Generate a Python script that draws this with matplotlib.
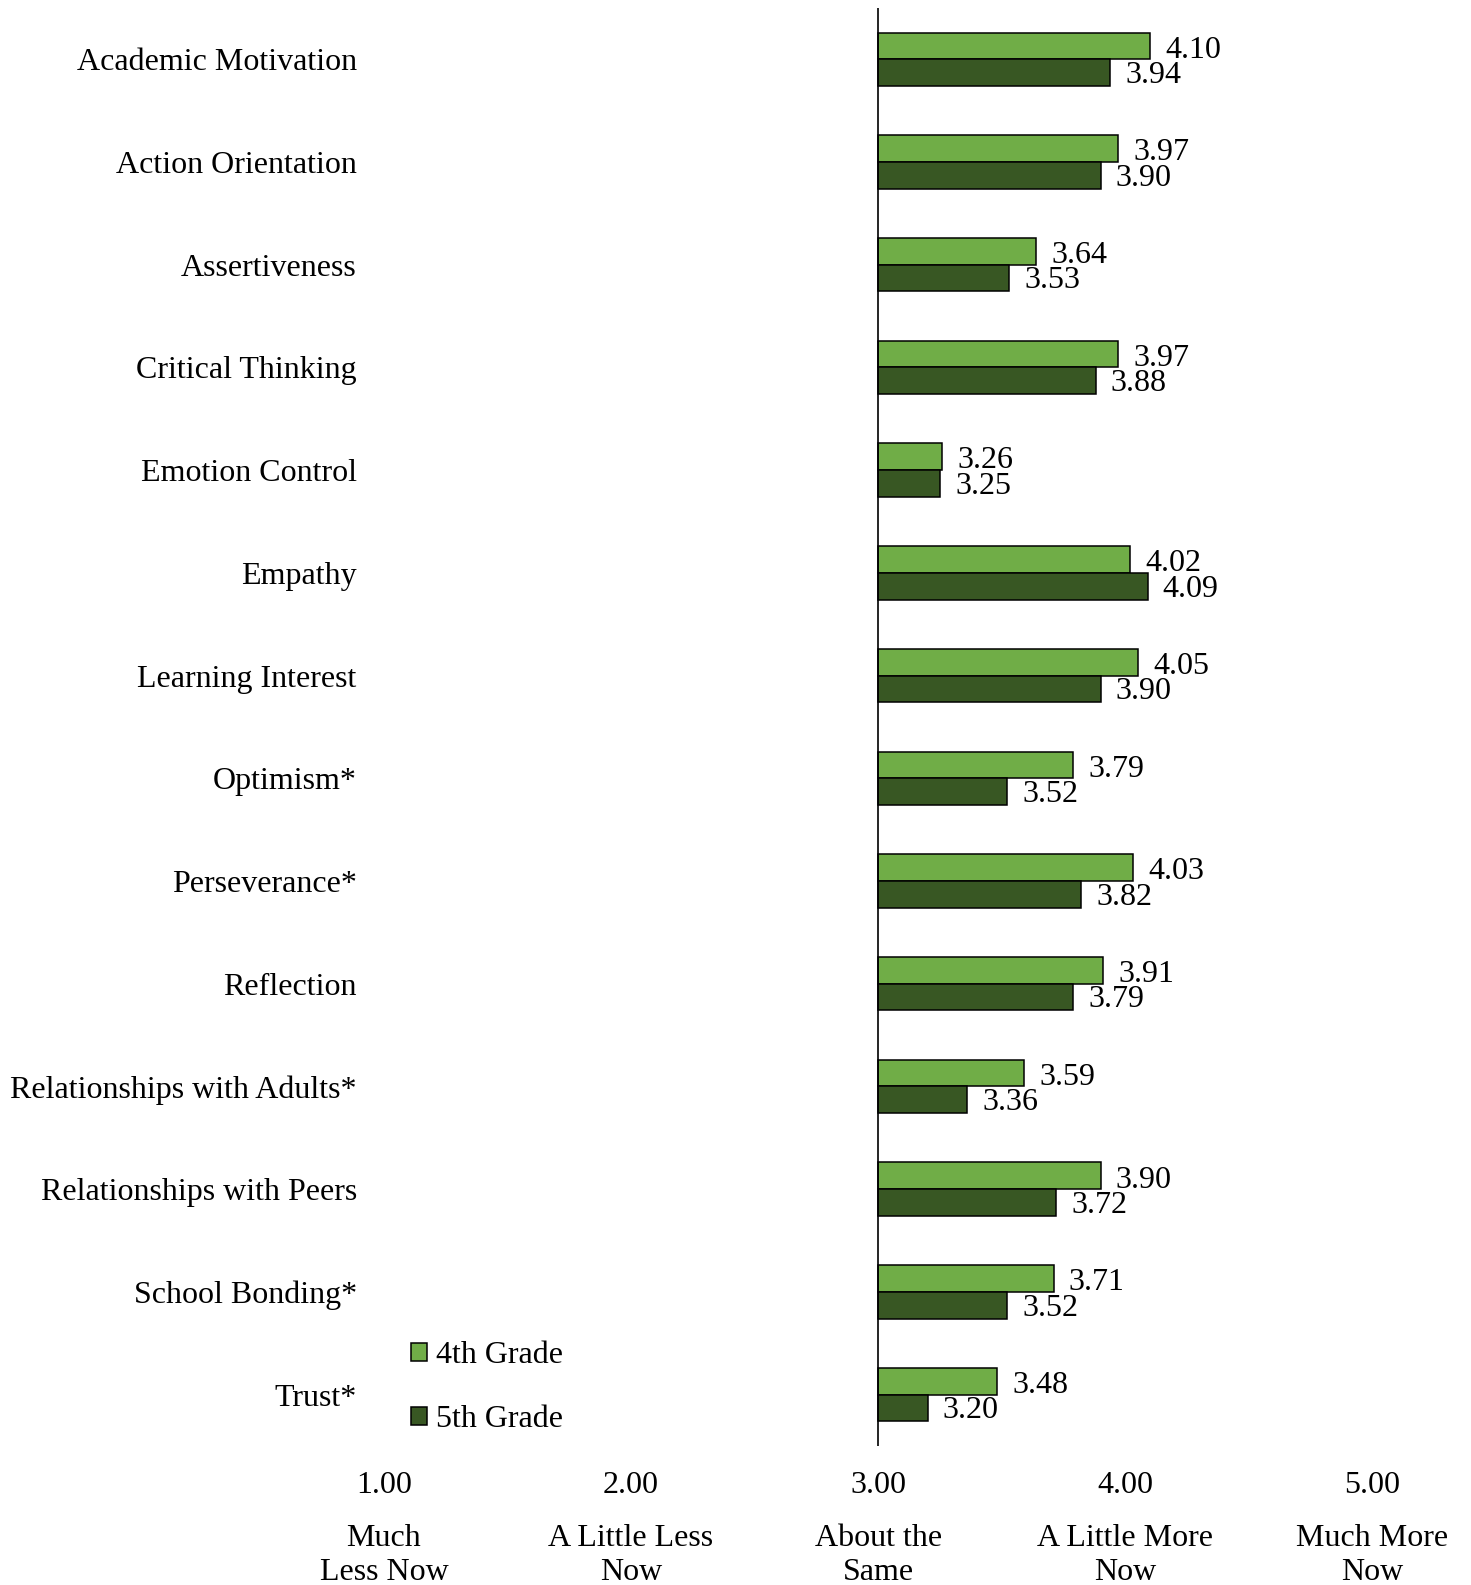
import numpy as np
import matplotlib
matplotlib.use("Agg")
import matplotlib.pyplot as plt
import matplotlib.transforms as mtransforms

plt.rcParams['font.family'] = ['Liberation Serif', 'DejaVu Serif']
plt.rcParams['font.size'] = 23

# data
categories = ["Academic Motivation", "Action Orientation", "Assertiveness", "Critical Thinking",
              "Emotion Control", "Empathy", "Learning Interest", "Optimism*", "Perseverance*",
              "Reflection", "Relationships with Adults*", "Relationships with Peers",
              "School Bonding*", "Trust*"]
grade4 = [4.10, 3.97, 3.64, 3.97, 3.26, 4.02, 4.05, 3.79, 4.03, 3.91, 3.59, 3.90, 3.71, 3.48]
grade5 = [3.94, 3.90, 3.53, 3.88, 3.25, 4.09, 3.90, 3.52, 3.82, 3.79, 3.36, 3.72, 3.52, 3.20]
scale_values = [1, 2, 3, 4, 5]
scale_labels = ["Much\nLess Now", "A Little Less\nNow", "About the\nSame", "A Little More\nNow", "Much More\nNow"]
series_names = ["4th Grade", "5th Grade"]

light = "#70AD47"
dark = "#385723"
base = 3.0

fig = plt.figure(figsize=(14.71, 15.85), dpi=100)
ax = fig.add_axes([0.261, 0.0877, 0.672, 0.9073])

y = np.arange(len(categories))
h = 0.26
v4 = np.array(grade4)
v5 = np.array(grade5)
b4 = ax.barh(y - h / 2, v4 - base, height=h, left=base, color=light, edgecolor="black", linewidth=1.1,
             label=series_names[0])
b5 = ax.barh(y + h / 2, v5 - base, height=h, left=base, color=dark, edgecolor="black", linewidth=1.1,
             label=series_names[1])

for bars, vals, dy in [(b4, grade4, -3), (b5, grade5, -2)]:
    for rect, v in zip(bars, vals):
        ax.annotate(f"{v:.2f}", (v, rect.get_y() + rect.get_height() / 2),
                    xytext=(11, dy), textcoords="offset points", va="center", ha="left")

ax.axvline(base, color="black", linewidth=1.2)

ax.set_xlim(1, 5)
ax.set_ylim(len(categories) - 0.5, -0.5)
ax.set_yticks(y)
ax.set_yticklabels(categories)
ax.set_xticks(scale_values)
ax.set_xticklabels([f"{v:.2f}" for v in scale_values])
ax.tick_params(axis="y", length=0, pad=19.5)
ax.tick_params(axis="x", length=0, pad=18)
for s in ax.spines.values():
    s.set_visible(False)

trans = mtransforms.blended_transform_factory(ax.transData, ax.transAxes)
for xv, lab in zip(scale_values, scale_labels):
    ax.text(xv, -0.0545, lab, transform=trans, ha="center", va="top", linespacing=1.2, clip_on=False)

ax.legend(loc="lower left", bbox_to_anchor=(0.027, 0.008), frameon=False, handlelength=0.5,
          handleheight=0.5, handletextpad=0.3, labelspacing=1.1, borderpad=0, borderaxespad=0)

fig.savefig("out.png", dpi=100)
